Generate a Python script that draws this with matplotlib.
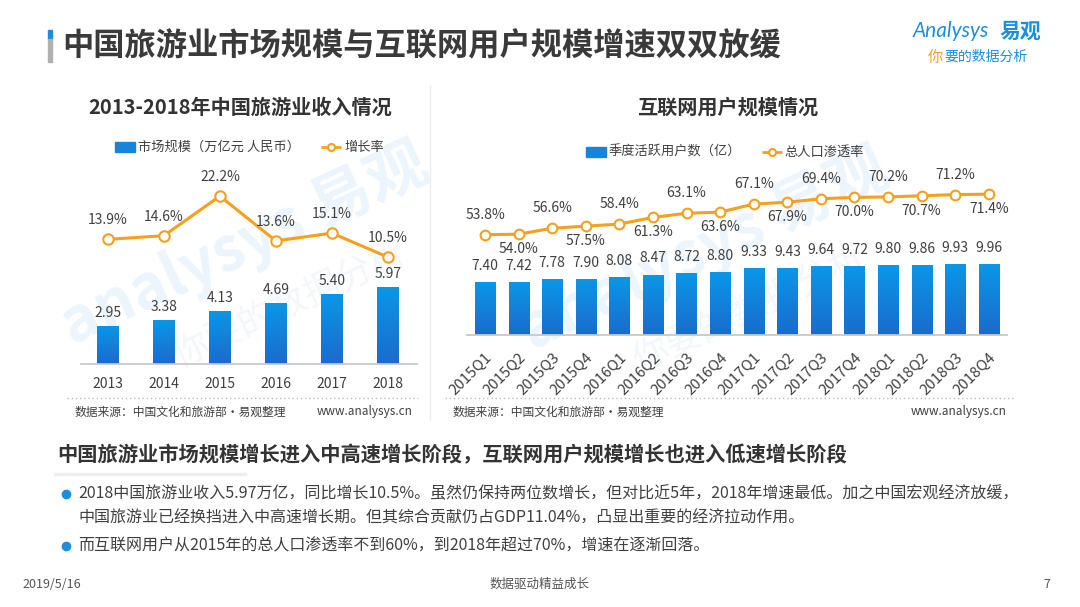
import matplotlib
matplotlib.use("Agg")
import matplotlib.pyplot as plt
from matplotlib.patches import Rectangle
import numpy as np

plt.rcParams['font.family'] = ['Noto Sans CJK SC', 'DejaVu Sans']

# left chart data
years = ['2013', '2014', '2015', '2016', '2017', '2018']
market_size = [2.95, 3.38, 4.13, 4.69, 5.40, 5.97]
growth_rate = [13.9, 14.6, 22.2, 13.6, 15.1, 10.5]

# right chart data
quarters = ['2015Q1', '2015Q2', '2015Q3', '2015Q4', '2016Q1', '2016Q2', '2016Q3', '2016Q4',
            '2017Q1', '2017Q2', '2017Q3', '2017Q4', '2018Q1', '2018Q2', '2018Q3', '2018Q4']
active_users = [7.40, 7.42, 7.78, 7.90, 8.08, 8.47, 8.72, 8.80,
                9.33, 9.43, 9.64, 9.72, 9.80, 9.86, 9.93, 9.96]
penetration = [53.8, 54.0, 56.6, 57.5, 58.4, 61.3, 63.1, 63.6,
               67.1, 67.9, 69.4, 70.0, 70.2, 70.7, 71.2, 71.4]

W, H = 1080, 607
BLUE = '#1584da'
ORANGE = '#f5a01f'
TXT = '#404040'
GRID = '#c8c8c8'

fig = plt.figure(figsize=(W / 100, H / 100), dpi=100)


def px_axes(x0, y_bottom, w, h):
    return fig.add_axes([x0 / W, 1 - y_bottom / H, w / W, h / H])


def gradient_bars(ax, bars):
    grad = np.linspace(0, 1, 100).reshape(-1, 1)
    cmap = matplotlib.colors.LinearSegmentedColormap.from_list('b', ['#1b6bcc', '#0a97e8'])
    for b in bars:
        x0, w, h = b.get_x(), b.get_width(), b.get_height()
        im = ax.imshow(grad, extent=[x0, x0 + w, 0, h], origin='lower', aspect='auto',
                       cmap=cmap, zorder=2)
        im.set_clip_path(b)


# overlay in pixel coords for decorations
over = fig.add_axes([0, 0, 1, 1], zorder=-5)
over.set_xlim(0, W)
over.set_ylim(H, 0)
over.axis('off')

# watermarks
for cx, cy in [(245, 245), (705, 250)]:
    over.text(cx, cy, 'analysys 易观', fontsize=44, color='#edf5fc', rotation=25,
              ha='center', va='center', fontweight='bold')
    over.text(cx + 45, cy + 60, '你要的数据分析', fontsize=26, color='#f3f7fb', rotation=25,
              ha='center', va='center')

# title
over.add_patch(Rectangle((48, 30), 3.5, 9, color='#1a8fe0'))
over.add_patch(Rectangle((48, 39), 3.5, 23, color='#b0b0b0'))
over.text(62, 46, '中国旅游业市场规模与互联网用户规模增速双双放缓', fontsize=22.5,
          fontweight='bold', color='#3a3a3a', va='center', ha='left')

# logo
over.text(913, 31, 'Analysys', fontsize=15, color='#1a8fe0', va='center', ha='left',
          style='italic', family=['Lato', 'DejaVu Sans'])
over.text(1000, 31, '易观', fontsize=15, color='#1a8fe0', va='center', ha='left',
          fontweight='bold')
over.text(928, 57, '你', fontsize=11, color=ORANGE, va='center', ha='left', style='italic')
over.text(944, 57, '要的数据分析', fontsize=10, color='#1a8fe0', va='center', ha='left',
          style='italic')

# divider
over.plot([430, 430], [85, 420], color='#ececec', lw=1)

# subtitles
over.text(240, 107, '2013-2018年中国旅游业收入情况', fontsize=14.5, fontweight='bold',
          color='#333333', ha='center', va='center')
over.text(728, 107, '互联网用户规模情况', fontsize=14.5, fontweight='bold',
          color='#333333', ha='center', va='center')

# legends
over.add_patch(Rectangle((115, 142), 20, 10, color=BLUE))
over.text(138, 147, '市场规模（万亿元 人民币）', fontsize=9.5, color=TXT, va='center')
over.plot([321, 341], [147, 147], color=ORANGE, lw=2, solid_capstyle='butt')
over.plot([331], [147], 'o', ms=5, mfc='white', mec=ORANGE, mew=1.5)
over.text(344, 147, '增长率', fontsize=9.5, color=TXT, va='center')

over.add_patch(Rectangle((586, 147), 20, 10, color=BLUE))
over.text(609, 152, '季度活跃用户数（亿）', fontsize=9.5, color=TXT, va='center')
over.plot([762, 782], [152, 152], color=ORANGE, lw=2, solid_capstyle='butt')
over.plot([772], [152], 'o', ms=5, mfc='white', mec=ORANGE, mew=1.5)
over.text(784, 152, '总人口渗透率', fontsize=9.5, color=TXT, va='center')

# source lines
over.plot([67, 418], [398, 398], color='#bdbdbd', lw=1, ls=(0, (1, 2)))
over.plot([445, 1014], [398, 398], color='#bdbdbd', lw=1, ls=(0, (1, 2)))
for x0, x1 in [(75, 413), (453, 1007)]:
    over.text(x0, 412, '数据来源：中国文化和旅游部·易观整理', fontsize=8.5, color=TXT, va='center')
    over.text(x1, 412, 'www.analysys.cn', fontsize=8.5, color=TXT, va='center', ha='right')

# summary block
over.text(57, 455, '中国旅游业市场规模增长进入中高速增长阶段，互联网用户规模增长也进入低速增长阶段',
          fontsize=14.6, fontweight='bold', color='#333333', va='center')
over.plot([55, 245], [474, 474], color='#eeeeee', lw=2.5)
over.plot([66, 66], [494, 546], 'o', ms=6, color='#1a8fe0', ls='none')
over.text(78, 494, '2018中国旅游业收入5.97万亿，同比增长10.5%。虽然仍保持两位数增长，但对比近5年，'
          '2018年增速最低。加之中国宏观经济放缓，', fontsize=11.5, color=TXT, va='center')
over.text(78, 518, '中国旅游业已经换挡进入中高速增长期。但其综合贡献仍占GDP11.04%，凸显出重要的经济拉动作用。',
          fontsize=11.5, color=TXT, va='center')
over.text(78, 546, '而互联网用户从2015年的总人口渗透率不到60%，到2018年超过70%，增速在逐渐回落。',
          fontsize=11.5, color=TXT, va='center')

# footer
over.text(22, 584, '2019/5/16', fontsize=9, color='#555555', va='center')
over.text(540, 584, '数据驱动精益成长', fontsize=9, color='#555555', va='center', ha='center')
over.text(1050, 584, '7', fontsize=9, color='#555555', va='center', ha='right')

# ---- left chart ----
ax1 = px_axes(81, 364, 336, 194)
ax1.set_facecolor('none')
x1 = np.arange(len(years))
bars1 = ax1.bar(x1, market_size, width=0.39, color=BLUE, zorder=2)
gradient_bars(ax1, bars1)
for xi, v in zip(x1, market_size):
    ax1.annotate(f'{v:.2f}', (xi, v), xytext=(0, 13), textcoords='offset pixels',
                 ha='center', va='center', fontsize=10, color=TXT)
ax1.set_xlim(-0.48, 5.52)
ax1.set_ylim(0, 15)
ax1.set_xticks(x1)
ax1.set_xticklabels(years, fontsize=10, color=TXT)
ax1.tick_params(axis='x', length=0, pad=9)
ax1.set_yticks([])
for s in ['top', 'right', 'left']:
    ax1.spines[s].set_visible(False)
ax1.spines['bottom'].set_color(GRID)
ax1.spines['bottom'].set_linewidth(1.3)

ax1b = ax1.twinx()
ax1b.plot(x1, growth_rate, color=ORANGE, lw=2.2, marker='o', ms=7.5, mfc='white',
          mec=ORANGE, mew=1.5, zorder=3)
for xi, v in zip(x1, growth_rate):
    ax1b.annotate(f'{v:.1f}%', (xi, v), xytext=(0, 19), textcoords='offset pixels',
                  ha='center', va='center', fontsize=10, color=TXT)
ax1b.set_ylim(-10.0, 27.2)
ax1b.set_xlim(-0.48, 5.52)
ax1b.axis('off')

# ---- right chart ----
ax2 = px_axes(467, 335, 540, 165)
ax2.set_facecolor('none')
x2 = np.arange(len(quarters))
bars2 = ax2.bar(x2, active_users, width=0.6, color=BLUE, zorder=2)
gradient_bars(ax2, bars2)
for xi, v in zip(x2, active_users):
    ax2.annotate(f'{v:.2f}', (xi, v), xytext=(0, 16), textcoords='offset pixels',
                 ha='center', va='center', fontsize=10, color=TXT)
ax2.set_xlim(-0.536, 15.54)
ax2.set_ylim(0, 23.1)
ax2.set_xticks(x2)
ax2.set_xticklabels(quarters, fontsize=10.8, color=TXT, rotation=45, ha='right',
                    rotation_mode='anchor')
ax2.tick_params(axis='x', length=0, pad=11)
ax2.set_yticks([])
for s in ['top', 'right', 'left']:
    ax2.spines[s].set_visible(False)
ax2.spines['bottom'].set_color(GRID)
ax2.spines['bottom'].set_linewidth(1.3)

ax2b = ax2.twinx()
ax2b.plot(x2, penetration, color=ORANGE, lw=2.2, marker='o', ms=7, mfc='white',
          mec=ORANGE, mew=1.5, zorder=3)
for i, (xi, v) in enumerate(zip(x2, penetration)):
    dy = 20 if i % 2 == 0 else -15
    ax2b.annotate(f'{v:.1f}%', (xi, v), xytext=(0, dy), textcoords='offset pixels',
                  ha='center', va='center', fontsize=10, color=TXT)
ax2b.set_ylim(10.2, 81.9)
ax2b.set_xlim(-0.536, 15.54)
ax2b.axis('off')

fig.savefig('out.png', dpi=100)
